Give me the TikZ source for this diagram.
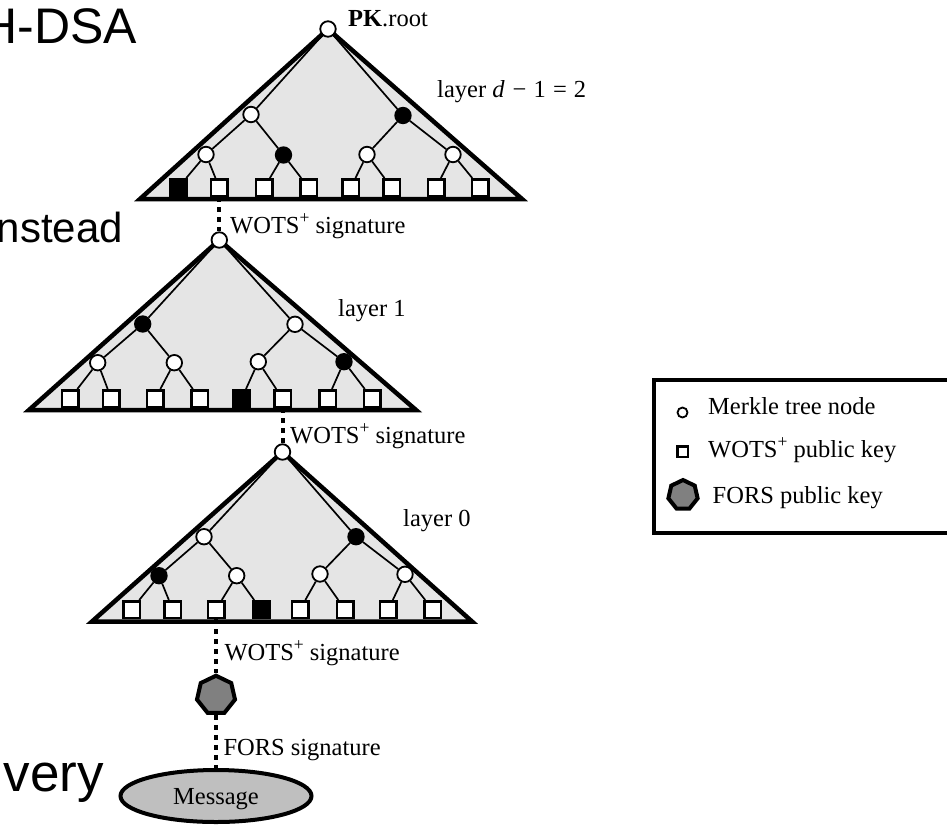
\documentclass[tikz,border=0pt]{standalone}
\usepackage{fontspec}
\setmainfont{Liberation Serif}
\newfontfamily\slidefont{Liberation Sans}
\usetikzlibrary{shapes.geometric}
\definecolor{trigray}{gray}{0.9}
\definecolor{forsgray}{gray}{0.5}
\definecolor{msggray}{gray}{0.75}
\newcommand{\wplus}{\raisebox{0.4em}{\fontsize{17.5}{17.5}\selectfont +}}
\tikzset{
  tri/.style={fill=trigray, draw=black, line width=4.5pt, line join=miter},
  edge/.style={line width=1.7pt},
  wn/.style={circle, draw=black, fill=white, line width=1.8pt, minimum size=15.5pt, inner sep=0pt},
  bn/.style={wn, fill=black},
  lf/.style={rectangle, draw=black, fill=white, line width=2.5pt, minimum size=16.5pt, inner sep=0pt},
  bl/.style={lf, fill=black},
  sig/.style={line width=4pt, dash pattern=on 5pt off 5pt},
  lbl/.style={font=\fontsize{24.5}{29}\selectfont, inner sep=0pt, anchor=base west},
  slide/.style={inner sep=0pt, text=black},
  hept/.style={regular polygon, regular polygon sides=7, draw=black, fill=forsgray, line width=4pt, inner sep=0pt}
}
\begin{document}
\begin{tikzpicture}[x=1pt,y=-1pt]
\clip (0,0) rectangle (947,825);
\fill[white] (0,0) rectangle (947,825);

% slide text fragments
\node[slide, font=\slidefont\fontsize{50}{60}\selectfont, anchor=base east] (s1) at (137.5,43) {H-DSA};
\node[slide, font=\slidefont\fontsize{42}{50}\selectfont, anchor=base east] (s2) at (123,242) {nstead};
\node[slide, font=\slidefont\fontsize{53}{60}\selectfont, anchor=base east] (s3) at (104,791) {very};

% ---------------- tree 1 (top) ----------------
\draw[tri] (328,29) -- (140,199) -- (522,199) -- cycle;
\node[wn] (r1) at (328,29) {};
\node[wn] (a11) at (251,114.5) {};
\node[bn] (a12) at (403,115.5) {};
\node[wn] (b11) at (206,154.5) {};
\node[bn] (b12) at (283.5,155) {};
\node[wn] (b13) at (367,154.5) {};
\node[wn] (b14) at (453,154.5) {};
\node[bl] (l11) at (178.3,187.5) {};
\node[lf] (l12) at (219.3,187.5) {};
\node[lf] (l13) at (264.3,187.5) {};
\node[lf] (l14) at (308.5,187.5) {};
\node[lf] (l15) at (350.8,187.5) {};
\node[lf] (l16) at (391.5,187.5) {};
\node[lf] (l17) at (436,187.5) {};
\node[lf] (l18) at (480,187.5) {};
\draw[edge] (r1) -- (a11); \draw[edge] (r1) -- (a12);
\draw[edge] (a11) -- (b11); \draw[edge] (a11) -- (b12);
\draw[edge] (a12) -- (b13); \draw[edge] (a12) -- (b14);
\draw[edge] (b11) -- (l11); \draw[edge] (b11) -- (l12);
\draw[edge] (b12) -- (l13); \draw[edge] (b12) -- (l14);
\draw[edge] (b13) -- (l15); \draw[edge] (b13) -- (l16);
\draw[edge] (b14) -- (l17); \draw[edge] (b14) -- (l18);

% ---------------- tree 2 (middle) ----------------
\draw[tri] (219.3,240) -- (29,410) -- (416,410) -- cycle;
\node[wn] (r2) at (219.3,240) {};
\node[bn] (a21) at (142.7,324) {};
\node[wn] (a22) at (295,324.3) {};
\node[wn] (b21) at (97.7,362.7) {};
\node[wn] (b22) at (174.3,362.7) {};
\node[wn] (b23) at (258.3,361.7) {};
\node[bn] (b24) at (344,361.7) {};
\node[lf] (l21) at (70,398.5) {};
\node[lf] (l22) at (111.3,398.5) {};
\node[lf] (l23) at (155.3,398.5) {};
\node[lf] (l24) at (199.5,398.5) {};
\node[bl] (l25) at (241.7,398.5) {};
\node[lf] (l26) at (282.5,398.5) {};
\node[lf] (l27) at (327.8,398.5) {};
\node[lf] (l28) at (372,398.5) {};
\draw[edge] (r2) -- (a21); \draw[edge] (r2) -- (a22);
\draw[edge] (a21) -- (b21); \draw[edge] (a21) -- (b22);
\draw[edge] (a22) -- (b23); \draw[edge] (a22) -- (b24);
\draw[edge] (b21) -- (l21); \draw[edge] (b21) -- (l22);
\draw[edge] (b22) -- (l23); \draw[edge] (b22) -- (l24);
\draw[edge] (b23) -- (l25); \draw[edge] (b23) -- (l26);
\draw[edge] (b24) -- (l27); \draw[edge] (b24) -- (l28);

% ---------------- tree 3 (bottom) ----------------
\draw[tri] (282.5,452) -- (92,621.5) -- (472,621.5) -- cycle;
\node[wn] (r3) at (282.5,452) {};
\node[wn] (a31) at (204,536.7) {};
\node[bn] (a32) at (356,536.7) {};
\node[bn] (b31) at (159,575.7) {};
\node[wn] (b32) at (236.7,575.7) {};
\node[wn] (b33) at (320,574) {};
\node[wn] (b34) at (405,574.3) {};
\node[lf] (l31) at (131.5,609.5) {};
\node[lf] (l32) at (172.7,609.5) {};
\node[lf] (l33) at (216,609.5) {};
\node[bl] (l34) at (261,609.5) {};
\node[lf] (l35) at (300,609.5) {};
\node[lf] (l36) at (345,609.5) {};
\node[lf] (l37) at (388.3,609.5) {};
\node[lf] (l38) at (432.7,609.5) {};
\draw[edge] (r3) -- (a31); \draw[edge] (r3) -- (a32);
\draw[edge] (a31) -- (b31); \draw[edge] (a31) -- (b32);
\draw[edge] (a32) -- (b33); \draw[edge] (a32) -- (b34);
\draw[edge] (b31) -- (l31); \draw[edge] (b31) -- (l32);
\draw[edge] (b32) -- (l33); \draw[edge] (b32) -- (l34);
\draw[edge] (b33) -- (l35); \draw[edge] (b33) -- (l36);
\draw[edge] (b34) -- (l37); \draw[edge] (b34) -- (l38);

% FORS key and message
\node[hept, minimum size=39pt] (f) at (216,695.2) {};
\node[ellipse, draw=black, fill=msggray, line width=4pt, minimum width=191pt, minimum height=52pt, inner sep=0pt, text depth=0pt, font=\fontsize{24.5}{29}\selectfont] (msg) at (216,796) {Message};

% signature connectors
\draw[sig] (l12.south) -- (r2.north);
\draw[sig] (l26.south) -- (r3.north);
\draw[sig] (l33.south) -- (f.north);
\draw[sig] (f.south) -- (msg.north);

% labels
\node[lbl] (pk) at (348,26.7) {\textbf{PK}.root};
\node[lbl] (ly2) at (437,97) {layer \textit{d}\hspace{2pt} − \hspace{1pt}1\hspace{1pt} = \hspace{1pt}2};
\node[lbl] (w1) at (230,233) {WOTS\wplus\ signature};
\node[lbl] (ly1) at (338,316) {layer 1};
\node[lbl] (w2) at (290,443) {WOTS\wplus\ signature};
\node[lbl] (ly0) at (403,526.7) {layer 0};
\node[lbl] (w3) at (224.3,660.7) {WOTS\wplus\ signature};
\node[lbl] (fs) at (223.3,755) {FORS signature};

% legend
\draw[line width=4pt] (653.5,380) rectangle (990,532.5);
\node[circle, draw=black, fill=white, line width=1.8pt, minimum size=10pt, inner sep=0pt] (lgc) at (682.5,412.5) {};
\node[rectangle, draw=black, fill=white, line width=2.5pt, minimum size=10.5pt, inner sep=0pt] (lgs) at (682.5,451.5) {};
\node[hept, minimum size=30pt] (lgf) at (683,495) {};
\node[lbl] (lt1) at (708,414) {Merkle tree node};
\node[lbl] (lt2) at (708,457.3) {WOTS\wplus\ public key};
\node[lbl] (lt3) at (712.5,503.3) {FORS public key};
\end{tikzpicture}
\end{document}
